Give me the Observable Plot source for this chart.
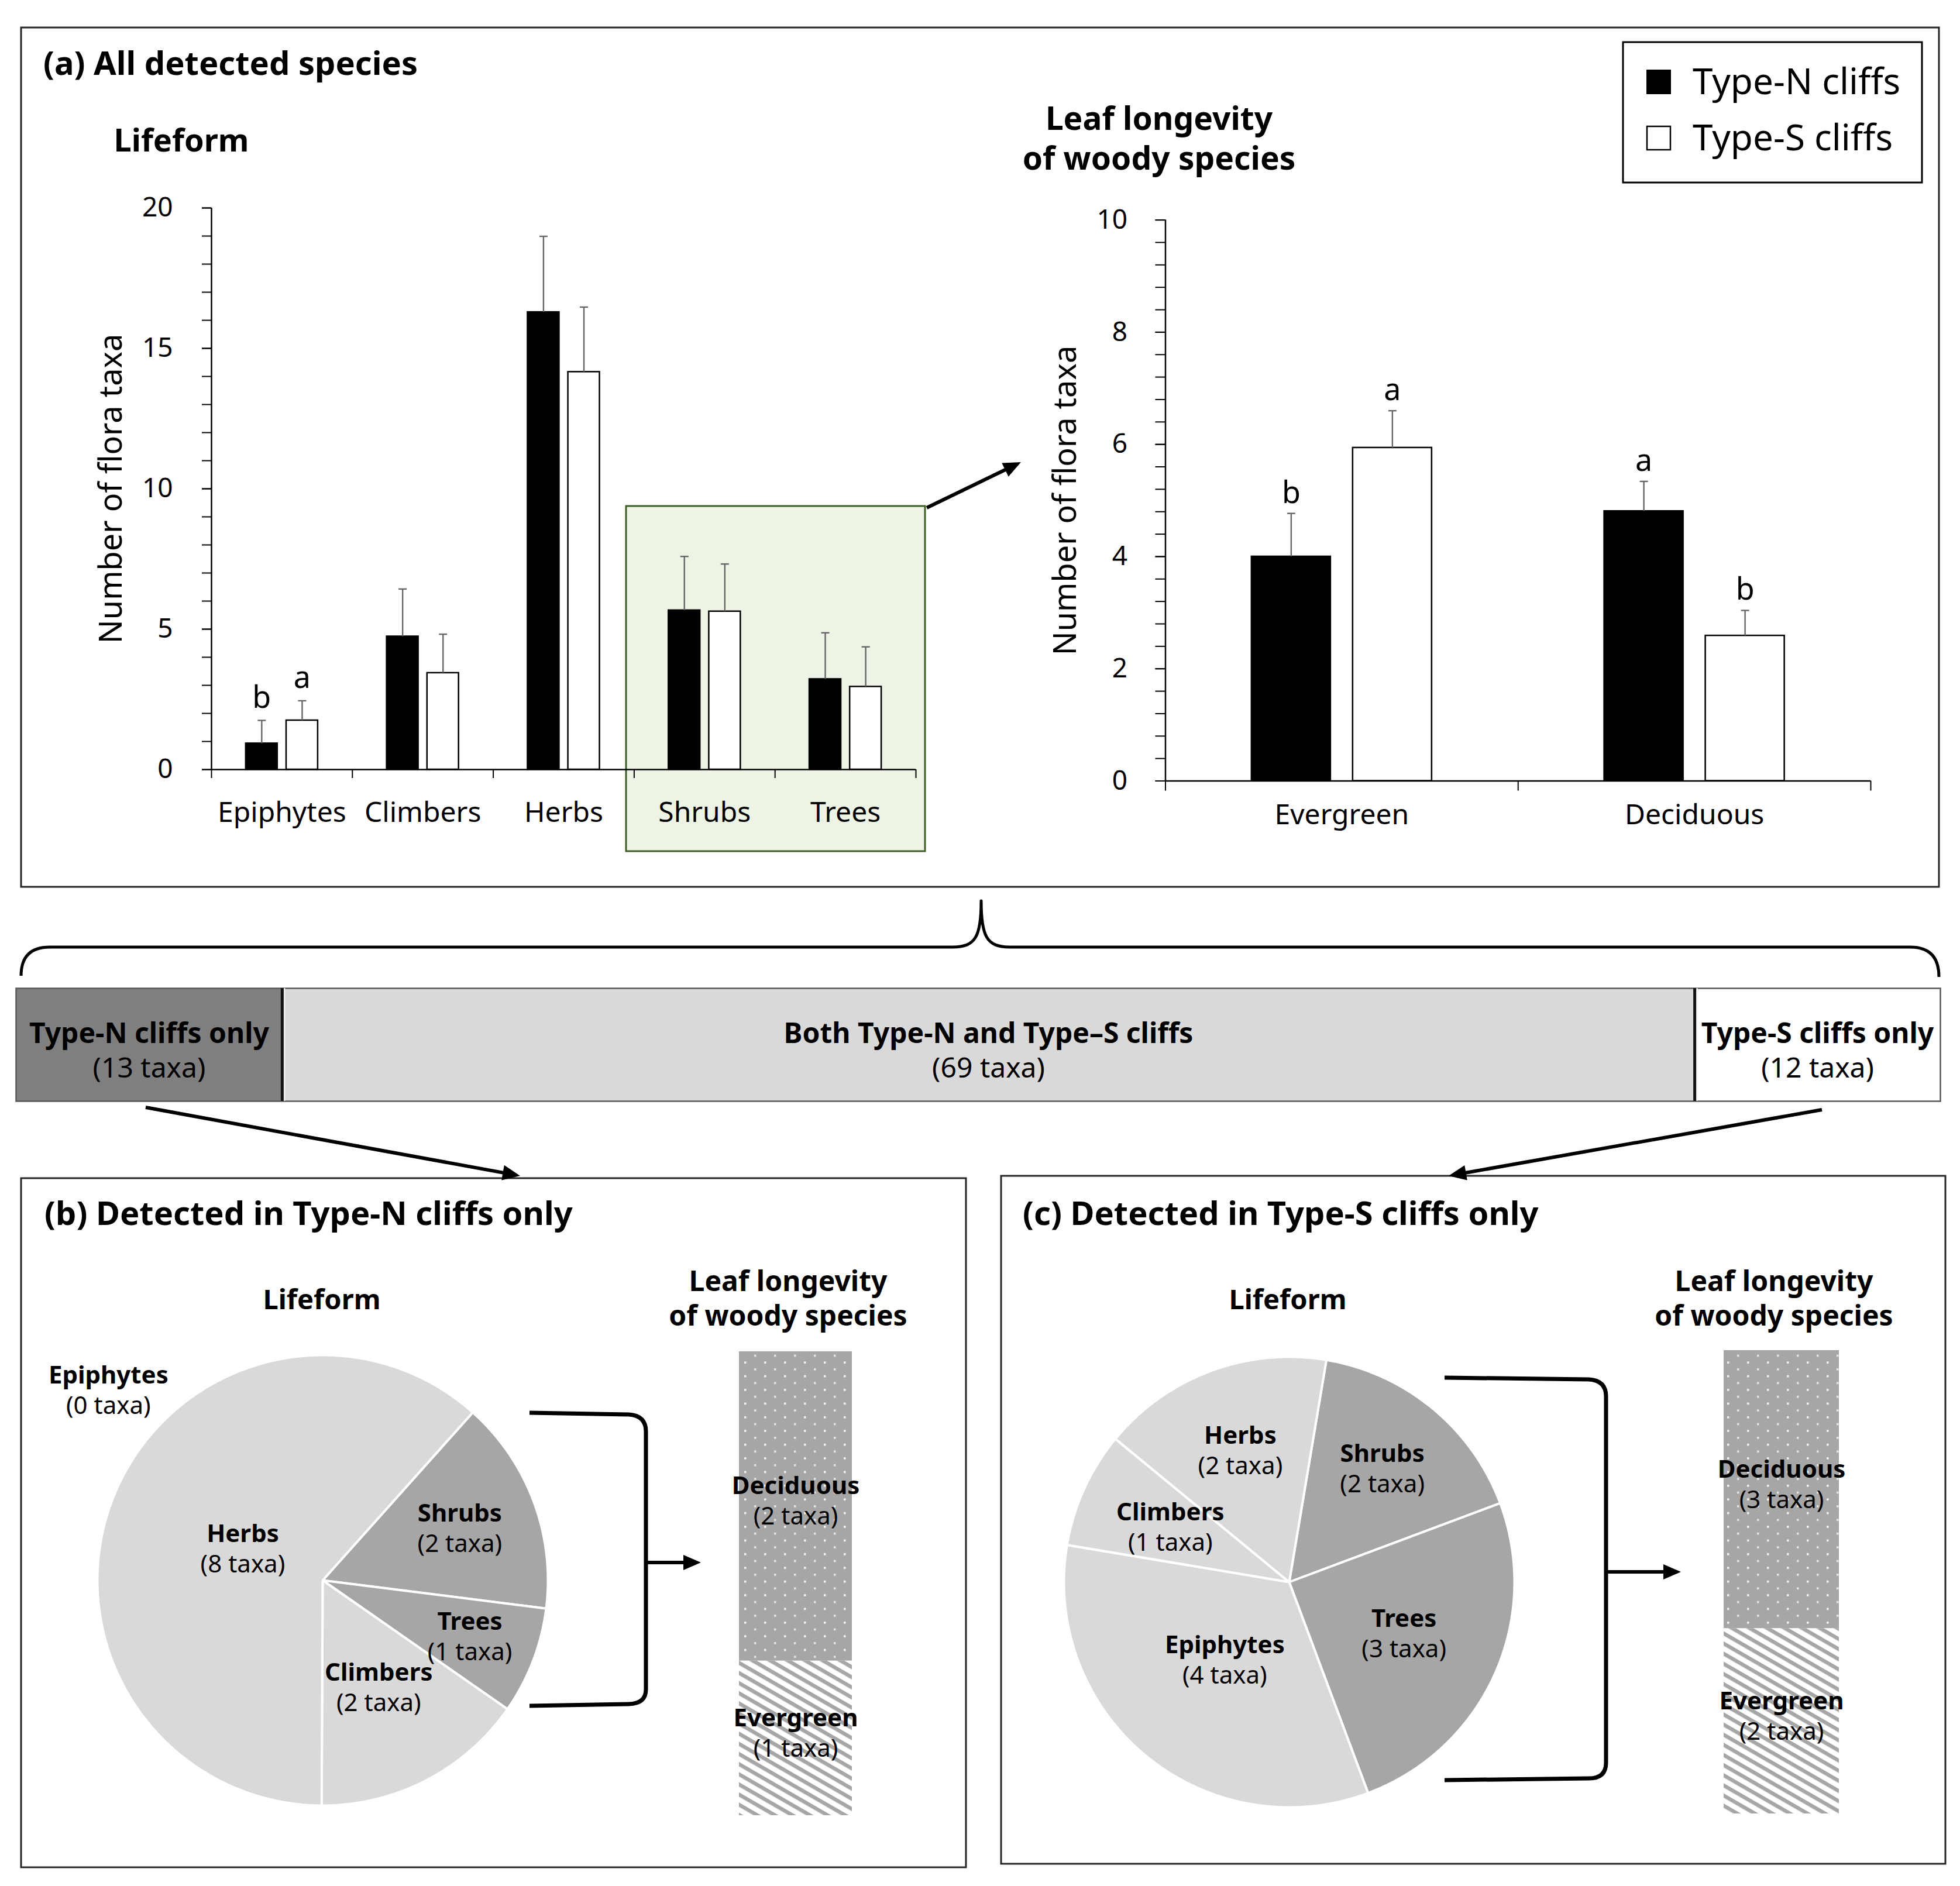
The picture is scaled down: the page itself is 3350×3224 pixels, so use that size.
<!DOCTYPE html>
<html>
<head>
<meta charset="utf-8">
<script src="https://cdn.jsdelivr.net/npm/d3@7"></script>
<script src="https://cdn.jsdelivr.net/npm/@observablehq/plot@0.6"></script>
<style>
  html, body { margin: 0; padding: 0; background: #fff; }
  #page { position: relative; width: 3350px; height: 3224px; background: #fff; overflow: hidden; }
</style>
</head>
<body>
<div id="page"></div>
<script>
// ================= DATA =================
const cliffTypes = ["Type-N cliffs", "Type-S cliffs"];

// (a) lifeform: mean number of taxa per cliff, with standard error
const lifeforms = ["Epiphytes", "Climbers", "Herbs", "Shrubs", "Trees"];
const lifeformMeanN = [0.93, 4.74, 16.29, 5.67, 3.22];
const lifeformSEN   = [0.82, 1.69, 2.70, 1.92, 1.65];
const lifeformMeanS = [1.75, 3.44, 14.16, 5.63, 2.95];
const lifeformSES   = [0.70, 1.38, 2.31, 1.69, 1.42];
const lifeformLetterN = ["b", "", "", "", ""];
const lifeformLetterS = ["a", "", "", "", ""];
const lifeformTicks = [0, 5, 10, 15, 20];

// (a) leaf longevity of woody species
const leafTypes = ["Evergreen", "Deciduous"];
const leafMeanN = [4.00, 4.81];
const leafSEN   = [0.77, 0.53];
const leafMeanS = [5.94, 2.59];
const leafSES   = [0.66, 0.45];
const leafLetterN = ["b", "a"];
const leafLetterS = ["a", "b"];
const leafTicks = [0, 2, 4, 6, 8, 10];

// shared / exclusive taxa
const sharedGroups = ["Type-N cliffs only", "Both Type-N and Type\u2013S cliffs", "Type-S cliffs only"];
const sharedTaxa = [13, 69, 12];

// (b), (c) exclusive taxa by lifeform (pie order, clockwise)
const pieOrder = ["Shrubs", "Trees", "Epiphytes", "Climbers", "Herbs"];
const onlyNLifeform = [2, 1, 0, 2, 8];
const onlySLifeform = [2, 3, 4, 1, 2];

// (b), (c) exclusive woody taxa by leaf longevity (bottom to top)
const leafOrder = ["Evergreen", "Deciduous"];
const onlyNLeaf = [1, 2];
const onlySLeaf = [2, 3];

// ================= STYLE / LAYOUT =================
const FONT = '"Noto Sans", "Open Sans", sans-serif';
const barOffset = 0.1435, barWidth = 0.224;
const pieColors = ["#a6a6a6", "#a6a6a6", "#d9d9d9", "#d9d9d9", "#d9d9d9"];
const page = document.getElementById("page");

function place(el, left, top) {
  el.style.position = "absolute";
  el.style.left = left + "px";
  el.style.top = top + "px";
  el.style.maxWidth = "none";
  el.style.background = "transparent";
  el.style.overflow = "visible";
  el.style.fontFamily = FONT;
  page.appendChild(el);
  return el;
}

// ---------- overlay (frames, titles, connectors) ----------
const over = d3.select(page).append("svg")
  .attr("width", 3350).attr("height", 3224)
  .style("position", "absolute").style("left", "0px").style("top", "0px")
  .style("font-family", FONT);
const defs = over.append("defs");
const dots = defs.append("pattern").attr("id", "dots").attr("patternUnits", "userSpaceOnUse")
  .attr("width", 34).attr("height", 23.4);
dots.append("rect").attr("width", 34).attr("height", 23.4).attr("fill", "#a6a6a6");
dots.append("rect").attr("x", 4).attr("y", 4).attr("width", 3.5).attr("height", 3.5).attr("fill", "#f4f4f4");
dots.append("rect").attr("x", 21).attr("y", 15.7).attr("width", 3.5).attr("height", 3.5).attr("fill", "#e6e6e6");
const stripes = defs.append("pattern").attr("id", "stripes").attr("patternUnits", "userSpaceOnUse")
  .attr("width", 15).attr("height", 15).attr("patternTransform", "rotate(30)");
stripes.append("rect").attr("width", 15).attr("height", 15).attr("fill", "#ffffff");
stripes.append("rect").attr("width", 15).attr("height", 6.5).attr("fill", "#a6a6a6");

function frameRect(x, y, w, h, stroke = "#262626", sw = 3, fill = "none") {
  over.append("rect").attr("x", x).attr("y", y).attr("width", w).attr("height", h)
    .attr("fill", fill).attr("stroke", stroke).attr("stroke-width", sw);
}
function label(x, y, str, size, weight = "normal", anchor = "start") {
  over.append("text").attr("x", x).attr("y", y).attr("font-size", size)
    .attr("font-weight", weight).attr("text-anchor", anchor).attr("fill", "#000").text(str);
}
function label2(x, y, lines, size, gap, weight = "bold") {
  const t = over.append("text").attr("x", x).attr("y", y).attr("font-size", size)
    .attr("font-weight", weight).attr("text-anchor", "middle").attr("fill", "#000");
  lines.forEach((s, i) => t.append("tspan").attr("x", x).attr("dy", i === 0 ? 0 : gap).text(s));
}
function arrow(x1, y1, x2, y2, w, head = 30, hw = 26) {
  const dx = x2 - x1, dy = y2 - y1, L = Math.hypot(dx, dy), ux = dx / L, uy = dy / L;
  const bx = x2 - ux * head, by = y2 - uy * head;
  over.append("line").attr("x1", x1).attr("y1", y1).attr("x2", bx + ux * 3).attr("y2", by + uy * 3)
    .attr("stroke", "#000").attr("stroke-width", w);
  over.append("path").attr("d", `M${x2},${y2}L${bx - uy * hw / 2},${by + ux * hw / 2}L${bx + uy * hw / 2},${by - ux * hw / 2}Z`)
    .attr("fill", "#000");
}
function pathLine(d, w) {
  over.append("path").attr("d", d).attr("fill", "none").attr("stroke", "#000")
    .attr("stroke-width", w).attr("stroke-linejoin", "round");
}

// panel frames
frameRect(36, 47, 3278, 1469);
frameRect(36, 2014, 1615, 1178);
frameRect(1711, 2010, 1614, 1176);
// highlight of woody lifeforms
frameRect(1070, 865, 511, 590, "#3b5e27", 3, "#edf4e6");
arrow(1584, 868, 1745, 790, 6);

// titles panel (a)
label(74, 128, "(a) All detected species", 56, "bold");
label(310, 259, "Lifeform", 54, "bold", "middle");
label2(1981, 222, ["Leaf longevity", "of woody species"], 55, 68);

// legend
frameRect(2774, 72, 511, 240, "#000", 3);
over.append("rect").attr("x", 2814).attr("y", 119).attr("width", 42).attr("height", 42).attr("fill", "#000");
over.append("rect").attr("x", 2815).attr("y", 216).attr("width", 40).attr("height", 40).attr("fill", "#fff")
  .attr("stroke", "#000").attr("stroke-width", 2.5);
label(2893, 161, cliffTypes[0], 62);
label(2893, 257, cliffTypes[1], 62);

// brace over the strip
pathLine("M36,1668 Q36,1619 85,1619 L1628,1619 C1668,1619 1677,1600 1677,1540 C1677,1600 1686,1619 1726,1619 L3265,1619 Q3314,1619 3314,1670", 5);

// arrows to lower panels
arrow(249, 1893, 889, 2010, 6);
arrow(3114, 1897, 2476, 2010, 6);

// titles panels (b) and (c)
label(76, 2094, "(b) Detected in Type-N cliffs only", 56, "bold");
label(1748, 2094, "(c) Detected in Type-S cliffs only", 56, "bold");
label(550, 2238, "Lifeform", 47, "bold", "middle");
label(2201, 2238, "Lifeform", 47, "bold", "middle");
label2(1347, 2207, ["Leaf longevity", "of woody species"], 48, 59);
label2(3032, 2207, ["Leaf longevity", "of woody species"], 48, 59);

// brackets from woody slices to leaf-longevity bars
pathLine("M905,2415 L1075,2418 Q1104,2420 1104,2447 L1104,2888 Q1104,2912 1075,2913 L905,2916", 7);
arrow(1104, 2671, 1198, 2671, 6);
pathLine("M2469,2355 L2716,2358 Q2745,2360 2745,2387 L2745,3013 Q2745,3040 2716,3040 L2469,3043", 7);
arrow(2745, 2687, 2873, 2687, 6);

// ---------- grouped bar charts ----------
const capSymbol = { draw(ctx) { ctx.moveTo(-7, 0); ctx.lineTo(7, 0); } };

function barRows(cats, meanN, seN, letN, meanS, seS, letS) {
  const rows = [];
  cats.forEach((c, i) => {
    rows.push({cat: c, type: cliffTypes[0], c: i + 0.5 - barOffset, mean: meanN[i], top: meanN[i] + seN[i], letter: letN[i]});
    rows.push({cat: c, type: cliffTypes[1], c: i + 0.5 + barOffset, mean: meanS[i], top: meanS[i] + seS[i], letter: letS[i]});
  });
  return rows;
}

function barChart(o) {
  const rows = barRows(o.cats, o.meanN, o.seN, o.letN, o.meanS, o.seS, o.letS);
  const yMax = d3.max(o.ticks);
  return Plot.plot({
    width: o.width, height: o.height,
    marginLeft: o.ml, marginRight: o.mr, marginTop: o.mt, marginBottom: o.mb,
    x: {domain: [0, o.cats.length], label: null},
    y: {domain: [0, yMax], label: null},
    color: {domain: cliffTypes, range: ["#000000", "#ffffff"]},
    style: {fontFamily: FONT, background: "transparent", overflow: "visible"},
    marks: [
      Plot.rect(rows, {x1: d => d.c - barWidth / 2, x2: d => d.c + barWidth / 2, y1: () => 0, y2: "mean",
        fill: "type", stroke: "#000", strokeWidth: 2.5}),
      Plot.ruleX(rows, {x: "c", y1: "mean", y2: "top", stroke: "#666", strokeWidth: 2.4}),
      Plot.dot(rows, {x: "c", y: "top", symbol: capSymbol, r: 7, fill: "none", stroke: "#666", strokeWidth: 2.4}),
      Plot.text(rows.filter(d => d.letter), {x: "c", y: "top", text: "letter", lineAnchor: "bottom",
        dy: o.letterDy, fontSize: 52}),
      Plot.axisY({ticks: d3.range(0, yMax + 1e-9, o.minor), tickSize: o.tickSize, tickFormat: () => "",
        strokeWidth: 2, label: null}),
      Plot.axisY({ticks: o.ticks, tickSize: o.tickSize, tickPadding: o.tickPadding, tickFormat: d => String(d),
        fontSize: 46, strokeWidth: 2, label: null}),
      Plot.axisX({ticks: d3.range(0, o.cats.length + 1), tickSize: o.xTick, tickFormat: () => "",
        strokeWidth: 2, label: null}),
      Plot.axisX({ticks: o.cats.map((_, i) => i + 0.5), tickSize: 0, tickPadding: o.xPad,
        tickFormat: d => o.cats[Math.floor(d)], fontSize: 48, label: null}),
      Plot.ruleY([0], {strokeWidth: 2.5}),
      Plot.ruleX([0], {strokeWidth: 2.5}),
      Plot.text(["Number of flora taxa"], {text: d => d, frameAnchor: "left", rotate: -90, dx: o.yLabelDx,
        textAnchor: "middle", lineAnchor: "middle", fontSize: 54})
    ]
  });
}

place(barChart({
  cats: lifeforms, meanN: lifeformMeanN, seN: lifeformSEN, letN: lifeformLetterN,
  meanS: lifeformMeanS, seS: lifeformSES, letS: lifeformLetterS, ticks: lifeformTicks, minor: 1,
  width: 1460, height: 1140, ml: 221, mr: 35, mt: 55, mb: 125,
  tickSize: 16, tickPadding: 50, xTick: 15, xPad: 55, letterDy: -22, yLabelDx: -171
}), 140, 300);

place(barChart({
  cats: leafTypes, meanN: leafMeanN, seN: leafSEN, letN: leafLetterN,
  meanS: leafMeanS, seS: leafSES, letS: leafLetterS, ticks: leafTicks, minor: 0.4,
  width: 1540, height: 1110, ml: 291.5, mr: 43, mt: 45.6, mb: 105.5,
  tickSize: 17, tickPadding: 48, xTick: 17, xPad: 40, letterDy: -18, yLabelDx: -170.5
}), 1700, 330);

// ---------- strip of shared / exclusive taxa ----------
const stripCum = d3.cumsum(sharedTaxa);
const stripRows = sharedGroups.map((g, i) => ({
  group: g, n: sharedTaxa[i], x1: stripCum[i] - sharedTaxa[i], x2: stripCum[i], mid: stripCum[i] - sharedTaxa[i] / 2
}));
place(Plot.plot({
  width: 3350, height: 210, marginLeft: 27, marginRight: 34, marginTop: 9, marginBottom: 8,
  x: {domain: [0, d3.sum(sharedTaxa)], axis: null},
  color: {domain: sharedGroups, range: ["#7f7f7f", "#d9d9d9", "#ffffff"]},
  style: {fontFamily: FONT, background: "transparent", overflow: "visible"},
  marks: [
    Plot.rect(stripRows, {x1: "x1", x2: "x2", fill: "group"}),
    Plot.frame({stroke: "#595959", strokeWidth: 2.5}),
    Plot.ruleX(Array.from(stripCum).slice(0, -1), {stroke: "#f4f4f4", strokeWidth: 2, dx: 4}),
    Plot.ruleX(Array.from(stripCum).slice(0, -1), {stroke: "#111", strokeWidth: 5}),
    Plot.text(stripRows, {x: "mid", text: "group", fontWeight: "bold", fontSize: 48, lineAnchor: "bottom", dy: -3}),
    Plot.text(stripRows, {x: "mid", text: d => `(${d.n} taxa)`, fontSize: 48, lineAnchor: "bottom", dy: 56})
  ]
}), 0, 1680);

// ---------- pies ----------
function pieChart(counts, startDeg, labelLayout) {
  const total = d3.sum(counts);
  let acc = startDeg;
  const slices = pieOrder.map((name, i) => {
    const a0 = acc, a1 = acc + counts[i] / total * 360;
    acc = a1;
    return {name, n: counts[i], a0, a1, mid: (a0 + a1) / 2};
  });
  const rad = a => a * Math.PI / 180;
  const pts = [];
  for (const s of slices) {
    if (s.n === 0) continue;
    pts.push({name: s.name, x: 0, y: 0});
    const steps = Math.max(2, Math.ceil((s.a1 - s.a0) / 0.5));
    for (let k = 0; k <= steps; k++) {
      const a = rad(s.a0 + (s.a1 - s.a0) * k / steps);
      pts.push({name: s.name, x: Math.sin(a), y: Math.cos(a)});
    }
  }
  const labels = slices.map(s => {
    const [rf, ang] = labelLayout[s.name];
    const a = rad(ang ?? s.mid);
    return {name: s.name, n: s.n, x: rf * Math.sin(a), y: rf * Math.cos(a)};
  });
  return Plot.plot({
    width: 800, height: 800, margin: 15,
    x: {domain: [-1, 1], axis: null},
    y: {domain: [-1, 1], axis: null},
    color: {domain: pieOrder, range: pieColors},
    style: {fontFamily: FONT, background: "transparent", overflow: "visible"},
    marks: [
      Plot.line(pts, {x: "x", y: "y", z: "name", fill: "name", stroke: "#ffffff", strokeWidth: 4,
        curve: "linear-closed", strokeLinejoin: "round"}),
      Plot.text(labels, {x: "x", y: "y", text: "name", fontWeight: "bold", fontSize: 42, lineAnchor: "middle", dy: -26}),
      Plot.text(labels, {x: "x", y: "y", text: d => `(${d.n} taxa)`, fontSize: 42, lineAnchor: "middle", dy: 26})
    ]
  });
}
place(pieChart(onlyNLifeform, 41.8, {
  Herbs: [0.38], Shrubs: [0.65], Trees: [0.70], Climbers: [0.54], Epiphytes: [1.27, 311.5]
}), 551 - 400, 2701 - 400);
place(pieChart(onlySLifeform, 9.5, {
  Herbs: [0.62], Shrubs: [0.65], Trees: [0.56], Climbers: [0.58], Epiphytes: [0.45]
}), 2203 - 400, 2704 - 400);

// ---------- stacked leaf-longevity bars ----------
function leafBar(counts, m) {
  const cum = d3.cumsum(counts);
  const rows = leafOrder.map((t, i) => ({type: t, n: counts[i], y1: cum[i] - counts[i], y2: cum[i], mid: cum[i] - counts[i] / 2}));
  return Plot.plot({
    width: 320, height: 820, marginLeft: m[0], marginRight: m[1], marginTop: m[2], marginBottom: m[3],
    y: {domain: [0, d3.sum(counts)], axis: null},
    color: {type: "ordinal", domain: leafOrder, range: ["url(#stripes)", "url(#dots)"]},
    style: {fontFamily: FONT, background: "transparent", overflow: "visible"},
    marks: [
      Plot.rect(rows, {y1: "y1", y2: "y2", fill: "type"}),
      Plot.text(rows, {y: "mid", text: "type", fontWeight: "bold", fontSize: 42, lineAnchor: "middle", dy: -34}),
      Plot.text(rows, {y: "mid", text: d => `(${d.n} taxa)`, fontSize: 42, lineAnchor: "middle", dy: 18})
    ]
  });
}
place(leafBar(onlyNLeaf, [63, 64, 10, 17]), 1200, 2300);
place(leafBar(onlySLeaf, [66, 57, 8, 20]), 2880, 2300);
</script>
</body>
</html>
